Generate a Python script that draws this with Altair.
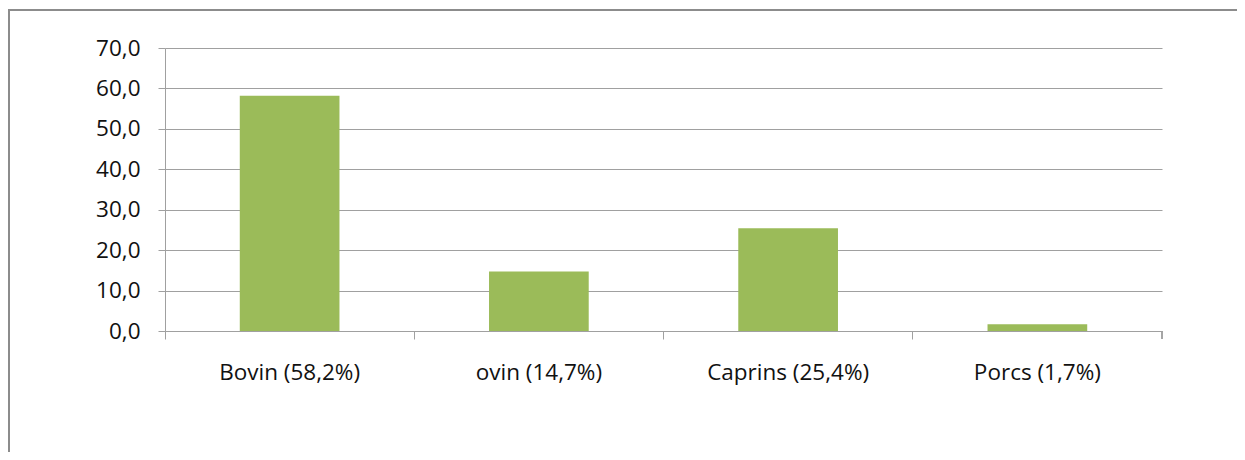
import altair as alt
import pandas as pd

categories = ["Bovin (58,2%)", "ovin (14,7%)", "Caprins (25,4%)", "Porcs (1,7%)"]
values = [58.2, 14.7, 25.4, 1.7]

df = pd.DataFrame({"cat": categories, "val": values})

W = 997
H = 283
FONT = "Open Sans"
GRID = "#a0a0a0"
TXT = "#111111"
FS = 22.5

base = alt.Chart(df)

bars = base.mark_bar(color="#9bbb59", width=alt.RelativeBandSize(0.4)).encode(
    x=alt.X(
        "cat:N",
        sort=categories,
        title=None,
        scale=alt.Scale(paddingInner=0, paddingOuter=0),
        axis=alt.Axis(
            bandPosition=0,
            labelAngle=0,
            labelPadding=22,
            labelFont=FONT,
            labelFontSize=FS,
            labelColor=TXT,
            tickSize=8,
            tickColor=GRID,
            domainColor=GRID,
            grid=False,
        ),
    ),
    y=alt.Y(
        "val:Q",
        title=None,
        scale=alt.Scale(domain=[0, 70]),
        axis=alt.Axis(
            values=[0, 10, 20, 30, 40, 50, 60, 70],
            labelExpr="replace(format(datum.value, '.1f'), '.', ',')",
            labelFont=FONT,
            labelFontSize=FS,
            labelColor=TXT,
            labelPadding=18,
            tickSize=7,
            tickColor=GRID,
            domainColor=GRID,
            gridColor=GRID,
        ),
    ),
)

end_tick = alt.Chart(df).mark_rule(color=GRID).encode(
    x=alt.value(W), y=alt.value(H), y2=alt.value(H + 8)
)

frame = alt.Chart(df).mark_rect(fill=None, stroke="#8c8c8c", strokeWidth=2).encode(
    x=alt.value(-156), y=alt.value(-38), x2=alt.value(W + 200), y2=alt.value(H + 300)
)

chart = (
    alt.layer(bars, end_tick, frame)
    .properties(
        width=W,
        height=H,
        padding={"left": 157, "top": 40, "right": 75, "bottom": 121},
        autosize=alt.AutoSizeParams(type="none"),
        background="white",
    )
    .configure_view(stroke=None)
)

chart.save("out.html", embed_options={"renderer": "svg", "actions": False})
